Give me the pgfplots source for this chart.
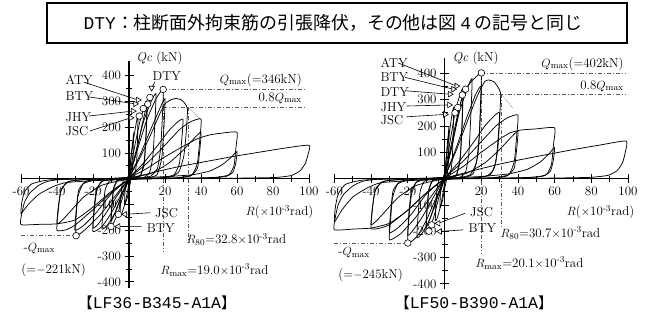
\documentclass[border=0pt]{standalone}
\usepackage{fontspec}
\usepackage{pgfplots}
\pgfplotsset{compat=1.18}
\newfontfamily\jp{Noto Sans CJK JP}
\newfontfamily\mono{Liberation Mono}
\newcommand\lab{\fontsize{13}{14}\selectfont}

\pgfplotsset{
  hyst/.style={
    axis lines=middle,
    axis line style={-, line width=1.1bp},
    anchor=origin,
    xmin=-60, xmax=100,
    xtick={-60,-40,-20,0,20,40,60,80,100},
    xticklabels={-60,-40,-20,0,20,40,60,80,100},
    minor xtick={-50,-30,-10,10,30,50,70,90},
    ytick={-400,-300,-200,-100,100,200,300,400},
    yticklabels={-400,-300,-200,-100,100,200,300,400},
    minor ytick={-350,-250,-150,-50,50,150,250,350},
    tick align=center,
    major tick length=9bp, minor tick length=6bp,
    tick style={line width=0.8bp, black},
    ticklabel style={font=\lab},
    clip=false,
  },
  cyc/.style={black, line width=0.75bp, smooth, tension=0.3},
  ref/.style={black!65, line width=0.6bp, dash pattern=on 4bp off 2bp on 1bp off 2bp},
  lead/.style={black, line width=0.6bp},
  circ/.style={only marks, mark=*, mark size=3.3bp, mark options={fill=white, draw=black, line width=0.6bp}},
  trir/.style={only marks, mark=triangle*, mark size=3.2bp, mark options={fill=white, draw=black, line width=0.6bp, rotate=-90}},
  tril/.style={only marks, mark=triangle*, mark size=3.2bp, mark options={fill=white, draw=black, line width=0.6bp, rotate=90}},
}

\begin{document}
\begin{tikzpicture}[x=1bp, y=1bp]
\useasboundingbox (0,0) rectangle (655,324);

% legend box
\draw[line width=1.3bp] (47,321) rectangle (627,281);
\node[font=\jp\fontsize{18}{20}\selectfont] at (333,301) {{\mono DTY}：柱断面外拘束筋の引張降伏，その他は図{\mono\hspace{0.2em}4\hspace{0.2em}}の記号と同じ};

% specimen captions
\node[font=\jp\fontsize{15}{19}\selectfont] at (157,21) {【{\mono\fontsize{16.5}{19}\selectfont LF36-B345-A1A}】};
\node[font=\jp\fontsize{15}{19}\selectfont] at (474,21) {【{\mono\fontsize{16.5}{19}\selectfont LF50-B390-A1A}】};

%% ---------------- LF36-B345-A1A ----------------
\begin{axis}[hyst, at={(129bp,145.3bp)}, x=1.8bp, y=0.258bp, ymin=-424, ymax=456]
% reference lines
\addplot[ref] coordinates {(19,346) (98,346)};
\addplot[ref] coordinates {(19,277) (98,277)};
\addplot[ref] coordinates {(19,346) (19,-283)};
\addplot[ref] coordinates {(32.8,277) (32.8,-244)};
\addplot[ref] coordinates {(-60,-221) (-29.4,-221)};
\addplot[black!60, line width=0.6bp, densely dotted] coordinates {(33,277) (39.6,231)};
% cycles
\addplot[cyc] coordinates {(0,0) (1,80) (2,140) (2.5,170) (2.3,100) (2,40) (1.2,0) (0,-40) (-1,-75) (-2,-95) (-2.5,-100) (-2.3,-60) (-1.8,-20) (-1,0) (0,20)};
\addplot[cyc] coordinates {(0,10) (2,130) (4,215) (5,245) (4.7,150) (4.2,60) (3,10) (1,0) (0,-20) (-2,-90) (-4,-135) (-5,-145) (-4.7,-90) (-4,-30) (-3,-5) (-1,0) (0,10)};
\addplot[cyc] coordinates {(0,5) (3,120) (6,220) (8.5,280) (10,300) (9.5,180) (8.5,70) (6.5,15) (3.5,3) (0,-5) (-3,-60) (-6,-130) (-8.5,-170) (-10,-180) (-9.5,-110) (-8.5,-40) (-6.5,-8) (-3.5,-2) (0,5)};
\addplot[cyc] coordinates {(0,5) (4,100) (7,200) (10,285) (9.5,170) (8.5,60) (6.5,12) (3,2) (0,-5) (-4,-60) (-7,-120) (-10,-165) (-9.5,-100) (-8.5,-35) (-6.5,-6) (-3,0) (0,5)};
\addplot[cyc] coordinates {(0,5) (4,110) (8,220) (12,295) (15,330) (14.4,220) (13.3,90) (11.5,25) (8,4) (0,-5) (-4,-65) (-8,-135) (-12,-180) (-15,-195) (-14.4,-120) (-13.3,-45) (-11,-10) (-6,-2) (0,5)};
\addplot[cyc] coordinates {(0,5) (5,120) (10,230) (15,310) (19,346) (18.6,250) (17.6,120) (15.8,40) (12,10) (7,3) (0,-5) (-5,-70) (-10,-135) (-15,-185) (-20,-205) (-19.4,-130) (-18,-50) (-15.5,-12) (-10,-3) (0,5)};
\addplot[cyc] coordinates {(0,5) (6,90) (12,190) (17,270) (20,310) (19.4,200) (18.2,80) (15.5,15) (10,3) (0,-5) (-6,-60) (-12,-125) (-17,-175) (-20,-190) (-19.4,-110) (-18,-40) (-14.5,-8) (-8,-2) (0,5)};
\addplot[cyc] coordinates {(0,5) (6,80) (12,170) (17,250) (20,290) (23,305) (26,311) (29,306) (31,292) (32.5,270) (31.8,180) (30.5,90) (28,30) (24,8) (15,2) (0,-5) (-8,-70) (-16,-140) (-24,-195) (-29.4,-221) (-29.4,-150) (-28.4,-70) (-25.5,-20) (-19,-5) (-10,0) (0,5)};
\addplot[cyc] coordinates {(0,3) (8,60) (16,130) (22,185) (27,220) (30,230) (29.3,150) (28,60) (25,15) (17,3) (0,-4) (-10,-60) (-18,-130) (-25,-180) (-30,-200) (-29.3,-120) (-28,-45) (-24,-10) (-15,-2) (0,3)};
\addplot[cyc] coordinates {(0,3) (10,60) (20,130) (28,190) (34,220) (40,231) (39.3,150) (38,60) (35,15) (27,4) (15,1) (0,-3) (-10,-55) (-20,-120) (-30,-180) (-35,-198) (-40,-200) (-39.4,-130) (-38,-50) (-34,-12) (-25,-3) (-10,0) (0,3)};
\addplot[cyc] coordinates {(0,2) (12,20) (22,60) (30,110) (36,155) (40,180) (39.3,110) (38,40) (34,10) (25,2) (0,-2) (-15,-25) (-25,-70) (-33,-130) (-37,-160) (-40,-175) (-39.3,-110) (-37.5,-40) (-33,-10) (-20,-2) (0,2)};
\addplot[cyc] coordinates {(0,2) (10,40) (20,85) (30,125) (38,155) (45,170) (52,177) (60,180) (59.4,120) (58.3,50) (55.5,15) (48,5) (30,2) (10,0) (0,-3) (-10,-50) (-20,-110) (-30,-160) (-40,-175) (-50,-177) (-60,-178) (-59.7,-140) (-58,-90) (-55,-55) (-50,-25) (-45,-10) (-38,-3) (-20,0) (0,2)};
\addplot[cyc] coordinates {(0,2) (20,8) (35,15) (45,30) (52,55) (57,85) (60,105) (59.3,60) (57.7,25) (53.5,8) (40,2) (0,-2) (-20,-8) (-35,-15) (-42,-30) (-50,-60) (-56,-100) (-60,-135) (-59.5,-90) (-58,-50) (-54,-20) (-45,-5) (-25,0) (0,2)};
\addplot[cyc] coordinates {(-3,-3) (0,2) (10,18) (20,35) (30,50) (40,63) (57,85) (70,100) (85,117) (100,130) (99.5,95) (98,60) (95,30) (90,12) (82,5) (70,3) (50,1)};
% leaders
\addplot[lead] coordinates {(-25,374) (5,305)};
\addplot[lead] coordinates {(-22.2,317) (3.5,290)};
\addplot[lead] coordinates {(-22.2,243) (2.2,262)};
\addplot[lead] coordinates {(-21.7,185) (1,236)};
\addplot[lead] coordinates {(14.4,376) (12.6,352)};
\addplot[lead] coordinates {(11.7,-132) (-2.2,-138)};
\addplot[lead] coordinates {(7,-186) (-6,-185)};
% event marks
\addplot[circ] coordinates {(19,346) (11.6,315) (10.4,289) (7.9,272) (5.7,243) (-29.4,-221) (-5.9,-138) (-10,-185)};
\addplot[trir] coordinates {(5,305) (3.5,290) (2.2,262) (1,236)};
\addplot[only marks, mark=triangle*, mark size=3.2bp, mark options={fill=white, draw=black, line width=0.6bp, rotate=180}] coordinates {(12.6,352)};
\addplot[tril] coordinates {(-2.2,-138) (-6,-185)};
% labels
\node[font=\lab, anchor=west] at (axis cs:-37.2,383) {ATY};
\node[font=\lab, anchor=west] at (axis cs:-37.2,320) {BTY};
\node[font=\lab, anchor=west] at (axis cs:-37.2,239) {JHY};
\node[font=\lab, anchor=west] at (axis cs:-37.2,185) {JSC};
\node[font=\lab] at (axis cs:21,398) {DTY};
\node[font=\lab, anchor=west] at (axis cs:12.6,-134) {JSC};
\node[font=\lab, anchor=west] at (axis cs:8,-192) {BTY};
\node[font=\lab, anchor=west] at (axis cs:2.2,465) {\textit{Qc} (kN)};
\node[font=\lab, anchor=east] at (axis cs:98,383) {$Q_{\mathrm{max}}$(=346kN)};
\node[font=\lab, anchor=east] at (axis cs:98,313) {0.8$Q_{\mathrm{max}}$};
\node[font=\lab, anchor=east] at (axis cs:104.4,-129) {$R$($\times$10\textsuperscript{-3}rad)};
\node[font=\lab, anchor=west] at (axis cs:30,-234) {$R_{80}$=32.8$\times$10\textsuperscript{-3}rad};
\node[font=\lab, anchor=west] at (axis cs:15.6,-354) {$R_{\mathrm{max}}$=19.0$\times$10\textsuperscript{-3}rad};
\node[font=\lab, anchor=west] at (axis cs:-60.5,-269) {-$Q_{\mathrm{max}}$};
\node[font=\lab, anchor=west] at (axis cs:-61.7,-354) {(=$-$221kN)};
\end{axis}

%% ---------------- LF50-B390-A1A ----------------
\begin{axis}[hyst, at={(444.5bp,145.4bp)}, x=1.835bp, y=0.263bp, ymin=-420, ymax=460]
% reference lines
\addplot[ref] coordinates {(20.1,402) (99,402)};
\addplot[ref] coordinates {(20.1,321.6) (99,321.6)};
\addplot[ref] coordinates {(20.1,402) (20.1,-284)};
\addplot[ref] coordinates {(30.7,321.6) (30.7,-188)};
\addplot[ref] coordinates {(-60,-245) (-20,-245)};
\addplot[black!60, line width=0.6bp, densely dotted] coordinates {(30.7,321) (37.5,267)};
% cycles
\addplot[cyc] coordinates {(0,0) (1,90) (2,165) (2.5,200) (2.3,120) (2,50) (1.2,0) (0,-40) (-1,-80) (-2,-105) (-2.5,-110) (-2.3,-65) (-1.8,-20) (-1,0) (0,20)};
\addplot[cyc] coordinates {(0,10) (2,140) (4,240) (5,270) (4.7,170) (4.2,70) (3,12) (1,0) (0,-20) (-2,-100) (-4,-150) (-5,-160) (-4.7,-100) (-4,-35) (-3,-5) (-1,0) (0,10)};
\addplot[cyc] coordinates {(0,5) (3,140) (6,260) (8.5,320) (10,340) (9.5,200) (8.5,80) (6.5,15) (3.5,3) (0,-5) (-3,-70) (-6,-150) (-8.5,-190) (-10,-200) (-9.5,-120) (-8.5,-45) (-6.5,-8) (-3.5,-2) (0,5)};
\addplot[cyc] coordinates {(0,5) (4,120) (7,230) (10,320) (9.5,190) (8.5,70) (6.5,12) (3,2) (0,-5) (-4,-70) (-7,-135) (-10,-185) (-9.5,-110) (-8.5,-40) (-6.5,-6) (-3,0) (0,5)};
\addplot[cyc] coordinates {(0,5) (4,125) (8,250) (12,335) (15,380) (14.4,250) (13.3,100) (11.5,25) (8,4) (0,-5) (-4,-75) (-8,-155) (-12,-205) (-15,-225) (-14.4,-140) (-13.3,-50) (-11,-10) (-6,-2) (0,5)};
\addplot[cyc] coordinates {(0,5) (4,140) (8,270) (11.5,340) (15,372) (18,392) (20.1,402) (19.7,300) (18.9,160) (17.3,60) (14,15) (8,3) (0,-5) (-5,-80) (-10,-160) (-15,-220) (-20,-245) (-19.4,-150) (-18,-60) (-15.5,-15) (-10,-3) (0,5)};
\addplot[cyc] coordinates {(0,5) (6,110) (12,230) (17,320) (20,350) (19.4,220) (18.2,90) (15.5,18) (10,3) (0,-5) (-6,-70) (-12,-145) (-17,-195) (-20,-215) (-19.4,-130) (-18,-45) (-14.5,-8) (-8,-2) (0,5)};
\addplot[cyc] coordinates {(0,5) (6,100) (12,210) (17,300) (20,345) (22,370) (24,375) (27,368) (29,349) (30.6,324) (30,220) (29,110) (26.8,35) (23,10) (15,2) (0,-5) (-8,-75) (-16,-150) (-24,-210) (-30,-233) (-29.4,-160) (-28.4,-75) (-25.5,-20) (-19,-5) (-10,0) (0,5)};
\addplot[cyc] coordinates {(0,3) (8,65) (16,140) (22,200) (27,238) (30,250) (29.3,160) (28,65) (25,15) (17,3) (0,-4) (-10,-60) (-18,-135) (-25,-185) (-30,-205) (-29.3,-125) (-28,-45) (-24,-10) (-15,-2) (0,3)};
\addplot[cyc] coordinates {(0,3) (10,65) (20,140) (28,200) (34,230) (40,242) (39.3,160) (38,65) (35,15) (27,4) (15,1) (0,-3) (-10,-55) (-20,-120) (-30,-175) (-35,-188) (-40,-190) (-39.4,-125) (-38,-50) (-34,-12) (-25,-3) (-10,0) (0,3)};
\addplot[cyc] coordinates {(0,2) (12,20) (22,60) (30,110) (36,155) (40,180) (39.3,110) (38,40) (34,10) (25,2) (0,-2) (-15,-25) (-25,-70) (-33,-130) (-37,-160) (-40,-175) (-39.3,-110) (-37.5,-40) (-33,-10) (-20,-2) (0,2)};
\addplot[cyc] coordinates {(0,2) (10,45) (20,100) (30,150) (36,175) (42,185) (50,189) (60,193) (59.4,130) (58.3,55) (55.5,15) (48,5) (30,2) (10,0) (0,-3) (-10,-55) (-20,-120) (-30,-170) (-40,-188) (-50,-192) (-60,-195) (-59.7,-155) (-58,-100) (-55,-60) (-50,-28) (-45,-11) (-38,-3) (-20,0) (0,2)};
\addplot[cyc] coordinates {(0,2) (20,8) (35,18) (45,35) (52,62) (57,95) (60,118) (59.3,70) (57.7,28) (53.5,9) (40,2) (0,-2) (-20,-8) (-35,-16) (-42,-35) (-50,-70) (-56,-120) (-60,-165) (-59.5,-110) (-58,-60) (-54,-22) (-45,-6) (-25,0) (0,2)};
\addplot[cyc] coordinates {(-3,-3) (0,2) (10,20) (20,38) (30,55) (40,70) (57,93) (70,110) (85,128) (99,143) (98.5,100) (97,60) (94,30) (89,12) (80,5) (68,3) (50,1)};
% leaders
\addplot[lead] coordinates {(-25.3,440) (6.6,352)};
\addplot[lead] coordinates {(-21.5,385) (4.8,340)};
\addplot[lead] coordinates {(-21.5,334) (3,321)};
\addplot[lead] coordinates {(-20.6,276) (2.6,280)};
\addplot[lead] coordinates {(-20.6,235) (0.3,244)};
\addplot[lead] coordinates {(11.2,-132) (-3.4,-170)};
\addplot[lead] coordinates {(10.2,-195) (-2.5,-201)};
% event marks
\addplot[circ] coordinates {(20.1,402) (11.5,340) (9.7,318) (7.2,270) (5.7,250) (-20,-245) (-7,-176) (-8.5,-200)};
\addplot[trir] coordinates {(6.6,352) (4.8,340) (3,321) (2.6,280) (0.3,244)};
\addplot[tril] coordinates {(-3.4,-170) (-2.5,-201)};
% labels
\node[font=\lab, anchor=west] at (axis cs:-36.8,440) {ATY};
\node[font=\lab, anchor=west] at (axis cs:-36.8,386) {BTY};
\node[font=\lab, anchor=west] at (axis cs:-36.8,329) {DTY};
\node[font=\lab, anchor=west] at (axis cs:-36.8,272) {JHY};
\node[font=\lab, anchor=west] at (axis cs:-36.8,223) {JSC};
\node[font=\lab, anchor=west] at (axis cs:12.1,-127) {JSC};
\node[font=\lab, anchor=west] at (axis cs:11.2,-188) {BTY};
\node[font=\lab, anchor=west] at (axis cs:2.5,456) {\textit{Qc} (kN)};
\node[font=\lab, anchor=east] at (axis cs:99.5,436) {$Q_{\mathrm{max}}$(=402kN)};
\node[font=\lab, anchor=east] at (axis cs:99.5,352) {0.8$Q_{\mathrm{max}}$};
\node[font=\lab, anchor=east] at (axis cs:105.4,-127) {$R$($\times$10\textsuperscript{-3}rad)};
\node[font=\lab, anchor=west] at (axis cs:28.6,-207) {$R_{80}$=30.7$\times$10\textsuperscript{-3}rad};
\node[font=\lab, anchor=west] at (axis cs:15,-321) {$R_{\mathrm{max}}$=20.1$\times$10\textsuperscript{-3}rad};
\node[font=\lab, anchor=west] at (axis cs:-59.7,-283) {-$Q_{\mathrm{max}}$};
\node[font=\lab, anchor=west] at (axis cs:-59.7,-367) {(=$-$245kN)};
\end{axis}
\end{tikzpicture}
\end{document}
